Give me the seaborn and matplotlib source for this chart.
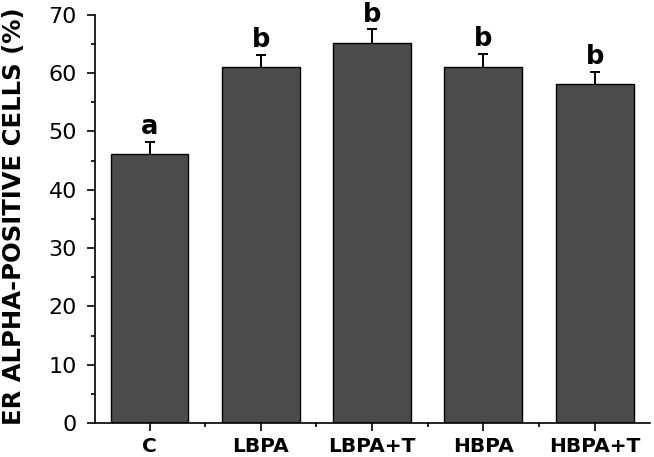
import numpy as np
import pandas as pd
import matplotlib
matplotlib.use("Agg")
import matplotlib.pyplot as plt
import seaborn as sns
from matplotlib.ticker import MultipleLocator, FixedLocator

# Data
groups = ["C", "LBPA", "LBPA+T", "HBPA", "HBPA+T"]
means = [46.1, 61.0, 65.1, 61.1, 58.1]
errors = [2.1, 2.1, 2.4, 2.2, 2.1]
letters = ["a", "b", "b", "b", "b"]

df = pd.DataFrame({"group": groups, "value": means, "err": errors})

sns.set_style("ticks", {"text.color": "black", "axes.labelcolor": "black",
                        "xtick.color": "black", "ytick.color": "black"})
plt.rcParams["font.family"] = ["DejaVu Sans"]

fig = plt.figure(figsize=(6.54, 4.57), dpi=100)
ax = fig.add_axes([0.1453, 0.0744, 0.849, 0.893])

sns.barplot(data=df, x="group", y="value", color="#4b4b4b", saturation=1,
            width=0.7, edgecolor="black", linewidth=1.0, errorbar=None,
            zorder=2, ax=ax)

# upper-only error bars
xs = np.arange(len(groups))
eb = ax.errorbar(xs, df["value"], yerr=[np.zeros(len(groups)), df["err"]],
                 fmt="none", ecolor="black", elinewidth=1.4, capsize=3.5,
                 capthick=1.4, zorder=3)
eb[1][0].set_visible(False)

for x, m, e, lab in zip(xs, means, errors, letters):
    ax.text(x, m + e + 0.3, lab, ha="center", va="bottom",
            fontsize=18.5, fontweight="bold", color="black")

ax.set_xlim(-0.49, 4.5)
ax.set_ylim(0, 70)
ax.yaxis.set_major_locator(MultipleLocator(10))
ax.yaxis.set_minor_locator(MultipleLocator(5))
ax.xaxis.set_minor_locator(FixedLocator(xs[:-1] + 0.5))

sns.despine(ax=ax, top=True, right=True)
for s in ["left", "bottom"]:
    ax.spines[s].set_linewidth(1.2)
    ax.spines[s].set_color("black")

ax.tick_params(axis="both", which="major", direction="out", length=6,
               width=1.2, color="black", labelcolor="black")
ax.tick_params(axis="both", which="minor", direction="out", length=3,
               width=1.2, color="black")
ax.tick_params(axis="y", labelsize=16, pad=7)
ax.tick_params(axis="x", labelsize=14.5, pad=4)
for t in ax.get_xticklabels():
    t.set_fontweight("bold")

ax.set_xlabel("")
ax.set_ylabel("ER ALPHA-POSITIVE CELLS (%)", fontsize=17.5, fontweight="bold",
              color="black")
ax.yaxis.set_label_coords(-0.125, 0.506)

fig.savefig("out.png", dpi=100)
